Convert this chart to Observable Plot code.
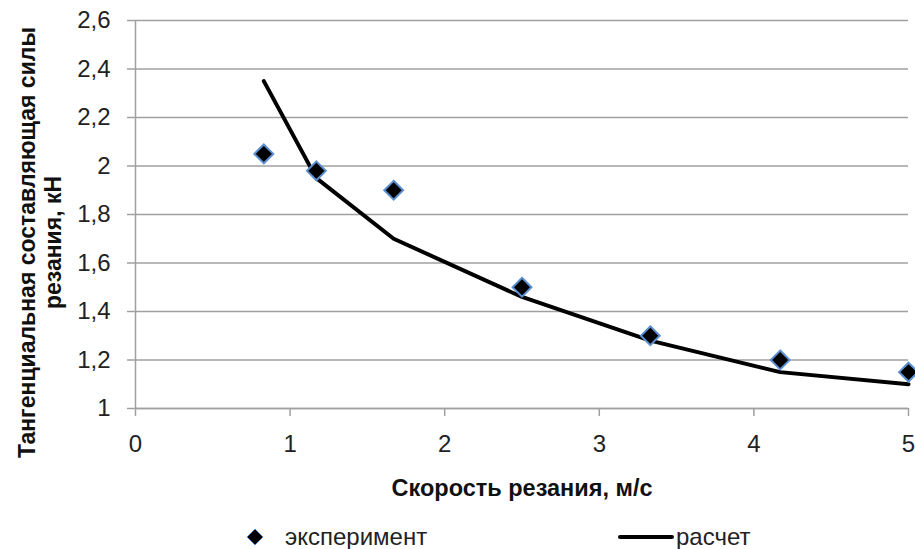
<!DOCTYPE html>
<html>
<head>
<meta charset="utf-8">
<script src="https://cdn.jsdelivr.net/npm/d3@7"></script>
<script src="https://cdn.jsdelivr.net/npm/@observablehq/plot@0.6"></script>
<style>
  html, body { margin: 0; padding: 0; background: #fff; }
  body { width: 915px; height: 549px; overflow: hidden; font-family: "Liberation Sans", Arial, sans-serif; }
  #legend { position: relative; width: 915px; height: 44px; font-size: 24px; color: #222; }
  #legend .item { position: absolute; top: 17px; height: 30px; display: flex; align-items: center; }
</style>
</head>
<body>
<div id="chart"></div>
<div id="legend"></div>
<script>
// Data
const seriesNames = ["эксперимент", "расчет"];
const xExp = [0.83, 1.17, 1.67, 2.5, 3.33, 4.17, 5];
const yExp = [2.05, 1.98, 1.90, 1.50, 1.30, 1.20, 1.15];
const xCalc = [0.83, 1.17, 1.67, 2.5, 3.33, 4.17, 5];
const yCalc = [2.35, 1.95, 1.70, 1.46, 1.28, 1.15, 1.10];
const xTicks = [0, 1, 2, 3, 4, 5];
const yTicks = [1, 1.2, 1.4, 1.6, 1.8, 2, 2.2, 2.4, 2.6];
const xTitle = "Скорость резания, м/с";
const yTitle = "Тангенциальная составляющая силы\nрезания, кН";

const expData = xExp.map((x, i) => ({x, y: yExp[i]}));
const calcData = xCalc.map((x, i) => ({x, y: yCalc[i]}));
const fmt = d => String(d).replace(".", ",");
const grid = "#a0a0a0";

const chart = Plot.plot({
  width: 915,
  height: 505,
  marginLeft: 135,
  marginRight: 7,
  marginTop: 20,
  marginBottom: 97,
  style: {fontFamily: "'Liberation Sans', Arial, sans-serif", background: "#fff", color: "#222"},
  x: {domain: [0, 5], ticks: xTicks},
  y: {domain: [1, 2.6], ticks: yTicks},
  marks: [
    Plot.gridY(yTicks, {stroke: grid, strokeOpacity: 1, strokeWidth: 1.5}),
    Plot.ruleX([0], {stroke: grid, strokeWidth: 1.5}),
    Plot.ruleY([1], {stroke: grid, strokeWidth: 1.5}),
    Plot.axisX(xTicks, {tickSize: 8, tickPadding: 18, stroke: grid, strokeWidth: 1.5, fontSize: 24, fill: "#222", tickFormat: fmt, label: null}),
    Plot.axisY(yTicks, {tickSize: 8, tickPadding: 17, stroke: grid, strokeWidth: 1.5, fontSize: 24, fill: "#222", tickFormat: fmt, label: null}),
    Plot.line(calcData, {x: "x", y: "y", stroke: "#000", strokeWidth: 4, strokeLinejoin: "round"}),
    Plot.dot(expData, {x: "x", y: "y", symbol: "diamond2", r: 8.5, fill: "#000", stroke: "#5b8fd0", strokeWidth: 2}),
    Plot.text([xTitle], {frameAnchor: "bottom", dy: 80, lineAnchor: "middle", fontSize: 23.5, fontWeight: "bold", fill: "#111"}),
    Plot.text([yTitle], {frameAnchor: "left", rotate: -90, dx: -96, dy: 28, lineAnchor: "middle", textAnchor: "middle", fontSize: 23, fontWeight: "bold", lineHeight: 1.15, fill: "#111"})
  ]
});
document.getElementById("chart").appendChild(chart);

// Legend
const legend = document.getElementById("legend");
const item1 = document.createElement("div");
item1.className = "item";
item1.style.left = "246px";
item1.innerHTML = `<svg width="18" height="18" viewBox="-9 -9 18 18"><path d="M0,-8L8,0L0,8L-8,0Z" fill="#000" stroke="#5b8fd0" stroke-width="1"/></svg><span style="margin-left:21px">${seriesNames[0]}</span>`;
legend.appendChild(item1);
const item2 = document.createElement("div");
item2.className = "item";
item2.style.left = "618px";
item2.innerHTML = `<svg width="56" height="10"><line x1="2" y1="5" x2="54" y2="5" stroke="#000" stroke-width="4" stroke-linecap="round"/></svg><span style="margin-left:2px">${seriesNames[1]}</span>`;
legend.appendChild(item2);
</script>
</body>
</html>
